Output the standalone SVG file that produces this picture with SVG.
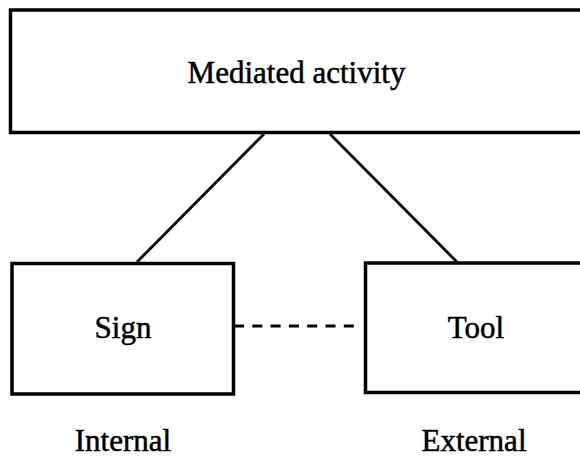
<svg xmlns="http://www.w3.org/2000/svg" width="580" height="464" viewBox="0 0 580 464">
<style>
.box{fill:#fff;stroke:#000;stroke-width:3.5}
.lbl{font-family:"Liberation Serif","Times New Roman",serif;font-size:31px;fill:#000;stroke:#000;stroke-width:0.5;text-anchor:middle}
.con{stroke:#000;stroke-width:2.8;fill:none}
</style>
<rect width="580" height="464" fill="#fff"/>
<g id="connectors">
<line class="con" x1="264" y1="134" x2="137" y2="262"/>
<line class="con" x1="330" y1="134" x2="457" y2="262"/>
<line class="con" x1="234" y1="326" x2="357" y2="326" stroke-dasharray="10 8.3"/>
</g>
<g id="mediated">
<rect class="box" x="10.5" y="10" width="600" height="122.5"/>
<text class="lbl" x="296.5" y="83">Mediated activity</text>
</g>
<g id="sign">
<rect class="box" x="12" y="263.5" width="221.5" height="130.5"/>
<text class="lbl" x="123" y="338">Sign</text>
</g>
<g id="tool">
<rect class="box" x="365.5" y="263" width="300" height="129.5"/>
<text class="lbl" x="476" y="338">Tool</text>
</g>
<g id="labels">
<text class="lbl" x="123" y="451">Internal</text>
<text class="lbl" x="474" y="451">External</text>
</g>
</svg>
